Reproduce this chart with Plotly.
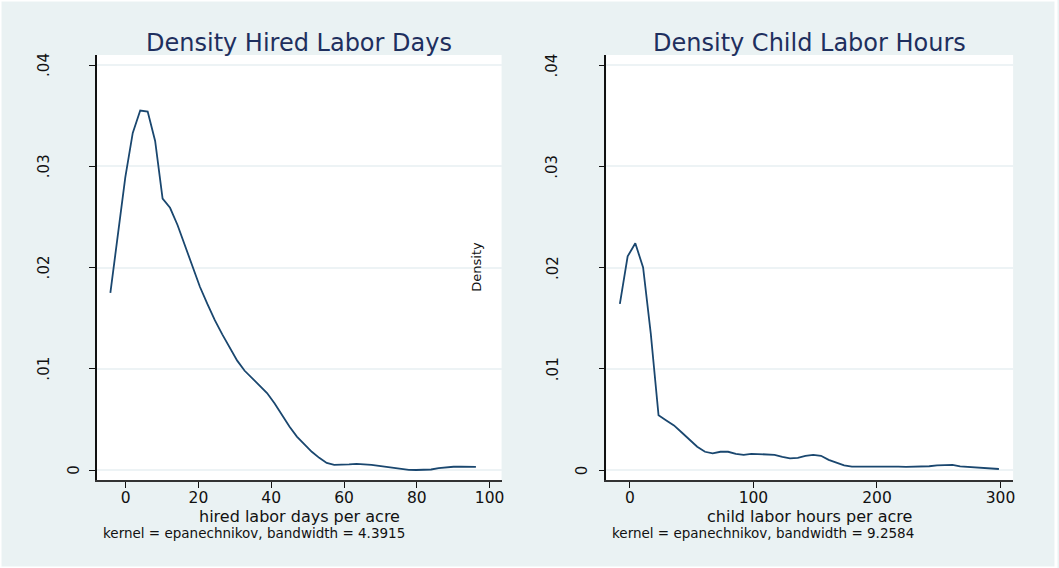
import plotly.graph_objects as go

W, H = 1059, 568

# Kernel density estimates (50-point grids) for the two labour measures
hired_x = [-4.2, -2.15, -0.1, 1.95, 4.0, 6.05, 8.1, 10.15, 12.2, 14.25,
           16.3, 18.35, 20.4, 22.45, 24.5, 26.55, 28.6, 30.65, 32.7, 34.75,
           36.8, 38.85, 40.9, 42.95, 45.0, 47.05, 49.1, 51.15, 53.2, 55.25,
           57.3, 59.35, 61.4, 63.45, 65.5, 67.55, 69.6, 71.65, 73.7, 75.75,
           77.8, 79.85, 81.9, 83.95, 86.0, 88.05, 90.1, 92.15, 94.2, 96.25]
hired_density = [0.0175, 0.0234, 0.0289, 0.0333, 0.0355, 0.0354, 0.0325, 0.0268, 0.0259, 0.0242,
                 0.0222, 0.0200, 0.0181, 0.0164, 0.0148, 0.0134, 0.0121, 0.0108, 0.0098, 0.0091,
                 0.0084, 0.0076, 0.0066, 0.0054, 0.0043, 0.0033, 0.0025, 0.0018, 0.0012, 0.0007,
                 0.0005, 0.0005, 0.00055, 0.0006, 0.00058, 0.0005, 0.0004, 0.0003, 0.0002, 0.0001,
                 0.00002, 0.0, 0.0, 0.00005, 0.00018, 0.00027, 0.00032, 0.00033, 0.00033, 0.0003]

child_x = [-8.1, -1.8, 4.4, 10.7, 16.9, 23.2, 29.5, 35.7, 42.0, 48.2,
           54.5, 60.8, 67.0, 73.3, 79.5, 85.8, 92.1, 98.3, 104.6, 110.8,
           117.1, 123.4, 129.6, 135.9, 142.1, 148.4, 154.7, 160.9, 167.2, 173.4,
           179.7, 186.0, 192.2, 198.5, 204.7, 211.0, 217.3, 223.5, 229.8, 236.0,
           242.3, 248.6, 254.8, 261.1, 267.3, 273.6, 279.9, 286.1, 292.4, 298.7]
child_density = [0.0164, 0.0211, 0.0224, 0.0200, 0.0135, 0.0054, 0.0049, 0.0044, 0.0037, 0.0030,
                 0.0023, 0.0018, 0.00165, 0.0018, 0.0018, 0.0016, 0.0015, 0.0016, 0.00158, 0.00155,
                 0.0015, 0.0013, 0.00115, 0.0012, 0.0014, 0.0015, 0.0014, 0.0010, 0.0007, 0.00045,
                 0.00033, 0.00033, 0.00035, 0.0004, 0.0004, 0.00035, 0.00033, 0.0003, 0.0003, 0.00035,
                 0.00037, 0.00045, 0.0005, 0.0005, 0.00035, 0.0003, 0.00025, 0.00018, 0.0001, 0.0001]

y_ticks = [0, 0.01, 0.02, 0.03, 0.04]
y_tick_text = ["0", ".01", ".02", ".03", ".04"]
hired_x_ticks = [0, 20, 40, 60, 80, 100]
child_x_ticks = [0, 100, 200, 300]

titles = ["Density Hired Labor Days", "Density Child Labor Hours"]
x_titles = ["hired labor days per acre", "child labor hours per acre"]
notes = ["kernel = epanechnikov, bandwidth = 4.3915",
         "kernel = epanechnikov, bandwidth = 9.2584"]

BG = "#eaf2f3"
LINE = "#1a476f"
GRID = "#edf3f5"
FONT = "DejaVu Sans"


def px(x):
    return x / W


def py(y):
    return 1 - y / H


# pixel boxes of the two plot regions
left_box = (97, 503)
right_box = (608, 1016)
top_px, bottom_px = 55, 480

fig = go.Figure()
fig.add_trace(go.Scatter(x=hired_x, y=hired_density, mode="lines",
                         line=dict(color=LINE, width=1.8), xaxis="x", yaxis="y",
                         showlegend=False, hoverinfo="skip"))
fig.add_trace(go.Scatter(x=child_x, y=child_density, mode="lines",
                         line=dict(color=LINE, width=1.8), xaxis="x2", yaxis="y2",
                         showlegend=False, hoverinfo="skip"))

y_range = [-0.000988, 0.04099]
common_y = dict(range=y_range, tickvals=y_ticks, showticklabels=False,
                ticks="outside", ticklen=6, tickwidth=1.3, tickcolor="#111",
                showline=True, linecolor="#111", linewidth=1.5,
                showgrid=True, gridcolor=GRID, gridwidth=1.5, zeroline=False,
                domain=[py(bottom_px), py(top_px)], fixedrange=True)
common_x = dict(ticks="outside", ticklen=6, tickwidth=1.3, tickcolor="#111",
                showline=True, linecolor="#333", linewidth=1.5,
                showgrid=False, zeroline=False, ticklabelstandoff=-3,
                tickfont=dict(family=FONT, size=15.5, color="#111"), fixedrange=True)

fig.update_layout(
    width=W, height=H,
    margin=dict(l=0, r=0, t=0, b=0),
    paper_bgcolor=BG, plot_bgcolor="white",
    xaxis=dict(common_x, range=[-7.95, 103.3], tickvals=hired_x_ticks,
               domain=[px(left_box[0]), px(left_box[1])], anchor="y"),
    yaxis=dict(common_y, anchor="x"),
    xaxis2=dict(common_x, range=[-19.1, 310.2], tickvals=child_x_ticks,
                domain=[px(right_box[0]), px(right_box[1])], anchor="y2"),
    yaxis2=dict(common_y, anchor="x2"),
)

ann = []
# rotated y tick labels for each panel
for x_far, x_zero in [(44, 74), (554, 584)]:
    for v, t in zip(y_ticks, y_tick_text):
        ann.append(dict(x=px(x_zero if v == 0 else x_far), xref="paper",
                        y=v, yref="y", text=t, showarrow=False, textangle=-90,
                        xanchor="center", yanchor="middle",
                        font=dict(family=FONT, size=15, color="#111")))

for box, title, xt, note in zip([left_box, right_box], titles, x_titles, notes):
    cx = (box[0] + box[1]) / 2
    ann.append(dict(x=px(cx), y=py(43), xref="paper", yref="paper", text=title,
                    showarrow=False, xanchor="center", yanchor="middle",
                    font=dict(family=FONT, size=24, color="#1e2f5e")))
    ann.append(dict(x=px(cx), y=py(516), xref="paper", yref="paper", text=xt,
                    showarrow=False, xanchor="center", yanchor="middle",
                    font=dict(family=FONT, size=16, color="#111")))
    ann.append(dict(x=px(box[0] + 4), y=py(533), xref="paper", yref="paper", text=note,
                    showarrow=False, xanchor="left", yanchor="middle",
                    font=dict(family=FONT, size=13.5, color="#111")))

# shared y-axis title
ann.append(dict(x=px(477.5), y=py(266.5), xref="paper", yref="paper", text="Density",
                showarrow=False, textangle=-90, xanchor="center", yanchor="middle",
                font=dict(family=FONT, size=13, color="#111")))

fig.update_layout(annotations=ann)

# thin white rim around the graph region
fig.add_shape(type="rect", xref="paper", yref="paper", x0=0, x1=1, y0=0, y1=1,
              line=dict(color="white", width=3), fillcolor="rgba(0,0,0,0)", layer="above")

fig.write_html("out.html")
